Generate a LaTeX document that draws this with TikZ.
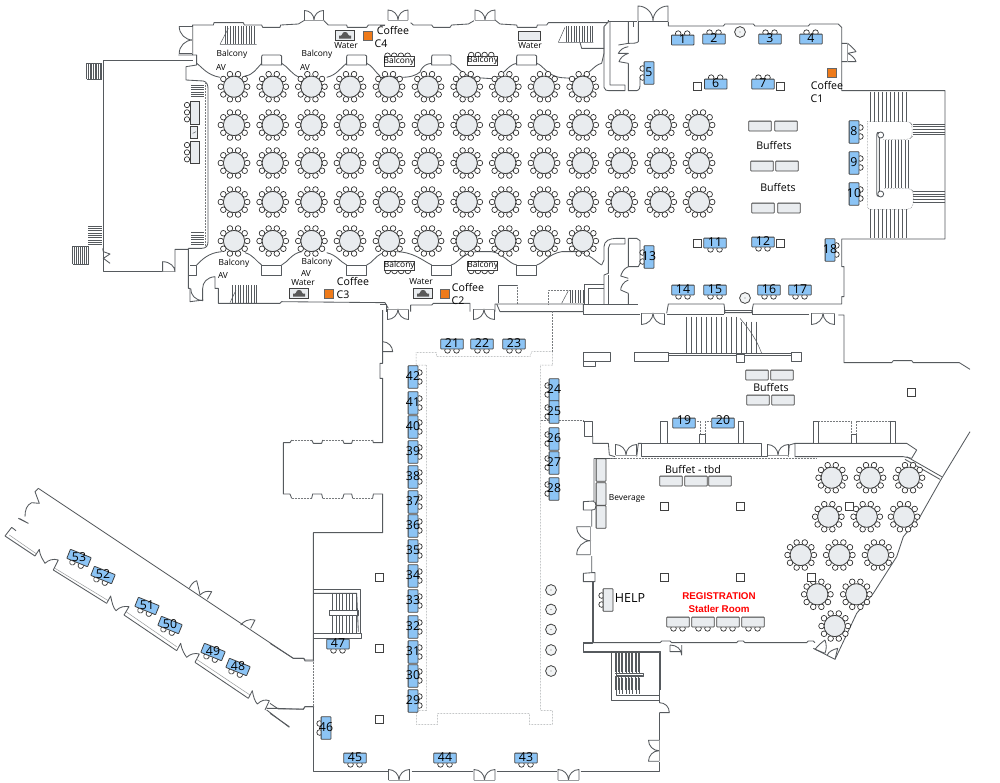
\documentclass[tikz,border=0pt]{standalone}
\usepackage{fontspec}
\setmainfont{Open Sans}
\newfontfamily\arialf{Liberation Sans}
\definecolor{wallc}{HTML}{565A5E}
\definecolor{tblg}{HTML}{E9ECEF}
\definecolor{tblb}{HTML}{8CC4F5}
\definecolor{orng}{HTML}{EE7A1A}
\tikzset{
 wall/.style={draw=wallc,line width=.85pt,line join=round},
 thin wall/.style={draw=wallc!60,line width=.5pt},
 dotw/.style={draw=wallc!80,line width=.5pt,densely dotted},
 tread/.style={draw=wallc,line width=.5pt},
 chair/.style={draw=black!85,fill=white,line width=.65pt},
 tbledge/.style={draw=black!75,line width=.8pt},
 lbl/.style={font=\fontsize{12.3}{12}\selectfont,inner sep=0pt},
 small/.style={font=\fontsize{8.4}{8}\selectfont,inner sep=0pt},
 med/.style={font=\fontsize{10.6}{10}\selectfont,inner sep=0pt},
 red lbl/.style={font=\arialf\bfseries\fontsize{9.8}{10}\selectfont,text=red,inner sep=0pt},
 zA/.style={shift={(60,0)},scale=0.33333},
 zB/.style={shift={(380,0)},scale=0.33333},
 zC/.style={shift={(620,0)},scale=0.33333},
 zD/.style={shift={(540,310)},scale=0.33333},
 zE/.style={shift={(270,310)},scale=0.33333},
 zG/.style={shift={(0,480)},scale=0.33333},
}
% round table with ten chairs
\newcommand{\rtbl}[2]{%
 \foreach \a in {0,36,...,324}{\draw[chair] (#1,#2) ++(\a:13.2) circle[radius=2.8];}
 \draw[tbledge,fill=tblg] (#1,#2) circle[radius=10.6];}
% rectangular table: fill, x, y, rotation, chairs (1/0)
\newcommand{\rtab}[5]{%
 \begin{scope}[shift={(#2,#3)},rotate=#4]
 \ifnum#5=1
 \draw[chair] (-4.5,6.4) circle[radius=2.8]; \draw[chair] (4.5,6.4) circle[radius=2.8];
 \fi
 \draw[tbledge,fill=#1,rounded corners=.5pt] (-11.2,-4.9) rectangle (11.2,4.9);
 \end{scope}}
% exhibitor table with number
\newcommand{\btbl}[4]{\rtab{tblb}{#2}{#3}{#4}{1}\node[lbl] (b#1) at (#2,#3-1) {#1};}
\newcommand{\sq}[2]{\draw[tbledge,fill=white,line width=.6pt] (#1-4,#2-4) rectangle (#1+4,#2+4);}
\newcommand{\post}[2]{\draw[tbledge,fill=tblg!60] (#1,#2) circle[radius=5.4]; \fill[black!50] (#1,#2) circle[radius=.6];}
\newcommand{\orangebox}[2]{\draw[black!60,fill=orng,line width=.6pt] (#1-4.5,#2-4.5) rectangle (#1+4.5,#2+4.5);}
% double door: centre, rotation, half width
\newcommand{\dpair}[4]{%
 \begin{scope}[shift={(#1,#2)},rotate=#3,scale=#4]
 \draw[wall] (-1,0)--(-1,-1) .. controls (-.45,-1) and (0,-.55) .. (0,0) .. controls (0,-.55) and (.45,-1) .. (1,-1) -- (1,0);
 \draw[thin wall] (-1,0)--(1,0);
 \end{scope}}
\newcommand{\balc}[3]{% x,y of box top-left (px), chairs 1=top,0=bottom
 \ifnum#3=1
 \foreach \d in {3.5,10.2,16.9,23.6}{\draw[chair] (#1+\d,#2-1) circle[radius=2.8];}
 \else
 \foreach \d in {3.5,10.2,16.9,23.6}{\draw[chair] (#1+\d,#2+10) circle[radius=2.8];}
 \fi
 \draw[tbledge,fill=white] (#1,#2) rectangle (#1+30,#2+9.3);
 \node[small] at (#1+15,#2+4.4) {Balcony};}
\newcommand{\water}[2]{% centre
 \draw[tbledge,fill=tblg] (#1-9.3,#2-5) rectangle (#1+9.3,#2+5);
 \fill[black!65] (#1-6,#2+3) -- (#1-6,#2) -- (#1-4,#2) -- (#1-3,#2-1) -- (#1-2,#2-3)--(#1,#2-3.5)--(#1+2,#2-3) -- (#1+3,#2-1)--(#1+4,#2)--(#1+6,#2) --(#1+6,#2+3) -- cycle;}
\begin{document}
\begin{tikzpicture}[x=1pt,y=-1pt]
\useasboundingbox (0,0) rectangle (1000,782);
\fill[white] (0,0) rectangle (1000,782);
%==================== upper hall walls (zoom 1 coordinates)
\begin{scope}[zA]
\draw[wall] (398,182)--(130,182)--(130,815)--(305,815);
\draw[thin wall] (305,815)--(345,815);
\draw[wall] (308,815)--(308,785) .. controls (330,785) and (345,800) .. (345,815) -- (345,748)--(385,748);
\draw[wall] (128,745)--(130,755)--(150,762)--(130,775)--(150,790);
% top wall
\draw[wall] (398,165)--(398,75)--(460,75)--(462,68)--(550,68)--(553,75)--(605,75)--(608,82)--(660,82)--(662,75)--(715,72)--(735,60);
\draw[wall] (790,60)--(805,75)--(860,75)--(862,82)--(920,82)--(925,75)--(975,75);
\draw[wall] (378,200)--(378,240)--(430,243) .. controls (440,245) and (444,255) .. (444,265) -- (444,725) .. controls (444,738) and (438,745) .. (425,745)--(385,745);
\draw[dotw] (436,250)--(436,738);
\draw[wall] (378,200)--(410,195)--(410,165)--(355,165);
% scallops
\draw[wall] (410,190) .. controls (425,200) and (440,225) .. (480,232);
\draw[wall] (555,228) .. controls (580,225) and (590,205) .. (605,190);
\draw[wall] (665,190) .. controls (685,200) and (695,225) .. (720,232);
\draw[wall] (800,232) .. controls (830,225) and (840,205) .. (860,190);
\draw[wall] (920,190) .. controls (935,195) and (945,215) .. (960,228);
\draw[wall,fill=white] (605,195)--(605,170) .. controls (605,165) and (607,165) .. (610,165) -- (660,165) .. controls (665,165) and (665,170) .. (665,170) -- (665,195)--cycle;
\draw[wall,fill=white] (860,195)--(860,170) .. controls (860,165) and (862,165) .. (865,165) -- (915,165) .. controls (920,165) and (920,170) .. (920,170) -- (920,195)--cycle;
% lower scallops
\draw[wall] (410,795) .. controls (425,780) and (445,758) .. (485,755);
\draw[wall] (555,758) .. controls (580,765) and (590,785) .. (605,795);
\draw[wall] (665,795) .. controls (685,785) and (695,760) .. (725,755);
\draw[wall] (800,758) .. controls (830,765) and (840,785) .. (860,795);
\draw[wall] (920,795) .. controls (935,790) and (945,770) .. (965,760);
\draw[wall,fill=white] (605,795) rectangle (665,825);
\draw[wall,fill=white] (860,795) rectangle (920,825);
% bottom wall
\draw[wall] (385,745)--(385,865)--(390,865)--(390,905)--(430,900);
\draw[wall] (390,795)--(408,795)--(408,825)--(387,825);
\draw[wall] (392,865) .. controls (392,885) and (405,900) .. (428,902) -- (428,865) .. controls (428,848) and (440,832) .. (465,830) -- (465,865) -- (475,865) -- (475,910)--(660,910)--(665,905)--(975,908)--(985,925);
% side bits
\foreach \x in {80,85,...,125}{\draw[tread] (\x,190)--(\x,238);}
\draw[tread] (80,190)--(125,190) (80,238)--(125,238);
\foreach \y in {678,685,...,735}{\draw[tread] (85,\y)--(125,\y);}
\foreach \x in {38,44,...,88}{\draw[tread] (\x,738)--(\x,793);}
\draw[tread] (38,738)--(88,738) (38,793)--(88,793);
\foreach \y in {255,262,...,292}{\draw[tread] (393,\y)--(432,\y);}
\foreach \y in {698,705,...,735}{\draw[tread] (393,\y)--(432,\y);}
% stairs top-left
\foreach \x in {495,503,...,590}{\draw[tread] (\x,78)--(\x,133);}
\draw[tread] (480,133)--(590,133) (480,133)--(505,85);
\foreach \x in {518,526,...,590}{\draw[tread] (\x,855)--(\x,908);}
\draw[tread] (510,908)--(528,870);
% small tables at left
\foreach \y in {315,337,358}{\draw[chair] (381,\y) circle[radius=8];}
\foreach \y in {435,457,478}{\draw[chair] (381,\y) circle[radius=8];}
\draw[tbledge,fill=tblg] (390,305) rectangle (417,372);
\draw[tbledge,fill=tblg] (390,423) rectangle (417,490);
\draw[tbledge,fill=tblg] (390,380) rectangle (413,415);
\draw[tread] (398,400)--(408,395);
\end{scope}
\dpair{314}{20}{0}{9.5}
\dpair{192.7}{40}{90}{13.5}
% continue, zoom 2 coordinates
\begin{scope}[zB]
\draw[wall] (0,75)--(15,75);
\draw[wall] (92,68)--(100,75)--(155,75)--(160,82)--(210,82)--(215,75)--(265,72)--(282,62);
\draw[wall] (345,60)--(360,72)--(410,75)--(412,82)--(470,82)--(472,75)--(500,75)--(505,68)--(685,68);
\draw[wall] (120,215) .. controls (130,195) and (140,192) .. (155,190);
\draw[wall] (0,232)--(60,232) .. controls (90,232) and (105,228) .. (122,215);
\draw[wall] (213,190) .. controls (235,195) and (240,228) .. (290,233) -- (335,236) .. controls (370,232) and (380,195) .. (410,190);
\draw[wall] (470,190) .. controls (490,195) and (500,228) .. (545,233) -- (590,236) .. controls (630,225) and (640,195) .. (665,190);
\draw[wall,fill=white] (155,195)--(155,170) .. controls (155,165) and (157,165) .. (160,165) -- (208,165) .. controls (213,165) and (213,170) .. (213,170) -- (213,195)--cycle;
\draw[wall,fill=white] (410,195)--(410,170) .. controls (410,165) and (412,165) .. (415,165) -- (465,165) .. controls (470,165) and (470,170) .. (470,170) -- (470,195)--cycle;
% lower scallops
\draw[wall] (45,755) .. controls (100,755) and (125,780) .. (155,795);
\draw[wall] (213,795) .. controls (235,790) and (245,760) .. (290,755) -- (335,755) .. controls (370,760) and (385,790) .. (410,795);
\draw[wall] (470,795) .. controls (490,790) and (505,762) .. (545,755) -- (590,755) .. controls (630,760) and (645,785) .. (665,795);
\draw[wall,fill=white] (155,795) rectangle (213,825);
\draw[wall,fill=white] (410,795) rectangle (470,825);
% east vestibule, north
\draw[wall] (665,190)--(672,160)--(672,80)--(685,65)--(685,60);
\draw[wall] (672,80)--(672,262) .. controls (672,270) and (680,272) .. (690,272) -- (735,272)--(735,255)--(690,255)--(690,65);
\draw[wall] (685,65)--(770,65);
\draw[wall] (745,65)--(745,130)--(715,135) (745,190)--(745,272)--(770,272) .. controls (780,270) and (780,262) .. (780,250) -- (780,235) (775,65)--(775,125) .. controls (770,130) and (760,130) .. (745,130);
\draw[wall] (745,140) .. controls (730,142) and (720,150) .. (715,160) -- (745,160) .. controls (730,165) and (720,175) .. (717,185) -- (745,190);
% stair top right
\foreach \x in {558,566,...,640}{\draw[tread] (\x,78)--(\x,127);}
\draw[tread] (535,127)--(640,127) (535,127)--(555,82);
\draw[wall] (600,127)--(605,145)--(672,145);
% east vestibule, south
\draw[wall] (665,795)--(672,780)--(672,740) .. controls (672,722) and (690,715) .. (710,715) -- (735,715)--(735,732)--(690,732)--(685,745)--(685,820)--(672,825)--(672,912);
\draw[wall] (685,825)--(685,912);
\draw[wall] (745,715)--(745,800)--(775,800)--(780,790)--(780,722)--(770,715)--(745,715);
\draw[wall] (745,800) .. controls (730,805) and (725,820) .. (722,828)--(745,835) (745,880)--(745,912);
\draw[wall] (745,840) .. controls (730,845) and (722,860) .. (722,870) -- (745,880);
% south wall
\draw[wall] (0,912)--(20,912)--(20,935);
\draw[wall] (92,935)--(92,915)--(155,915)--(160,910)--(270,910)--(270,935);
\draw[wall] (355,910)--(355,855)--(412,855);
\draw[dotw] (412,855)--(412,910);
\draw[wall] (345,935)--(345,912)--(505,912)--(610,912)--(610,935)--(360,935)--(350,912);
\draw[wall] (610,912)--(775,912);
\draw[wall] (612,912)--(612,852) -- (672,852);
\draw[wall] (625,912)--(625,865)--(672,865);
\foreach \x in {570,578,...,610}{\draw[tread] (\x,870)--(\x,910);}
\draw[dotw] (505,912)--(505,870)--(570,870);
\draw[tread] (545,910)--(565,872);
\end{scope}
\dpair{398}{20}{0}{10}
\dpair{485}{20}{0}{10}
\dpair{398}{309}{180}{10.5}
\dpair{484}{309}{180}{10.5}
\dpair{653}{21}{0}{15}
% east room (zoom 3 coordinates)
\begin{scope}[zC]
\draw[wall] (25,65)--(40,65)--(40,80) (25,65)--(25,130) (55,65)--(145,65);
\draw[wall] (145,65)--(145,78)--(310,78)--(315,72)--(400,72)--(405,78)--(565,78)--(570,72)--(655,72)--(665,82)--(665,130)--(683,130);
\draw[wall] (665,130)--(665,185)--(665,272)--(975,272)--(975,717)--(665,717)--(665,800)--(672,800)--(672,890)--(665,890)--(665,912)--(400,912)--(395,938)--(315,938)--(312,912)--(145,912)--(140,940);
\draw[wall] (683,130) .. controls (695,140) and (705,150) .. (708,155) -- (683,160) .. controls (695,165) and (705,175) .. (708,185) -- (683,185)--(665,185);
\draw[thin wall] (683,130)--(683,185);
% stairs
\foreach \x in {750,762,...,866}{\draw[tread] (\x,275)--(\x,365);}
\foreach \x in {750,762,...,866}{\draw[tread] (\x,628)--(\x,715);}
\foreach \x in {795,805,...,865}{\draw[tread] (\x,420)--(\x,565);}
\foreach \y in {372,380,388,396,404}{\draw[tread] (878,\y)--(975,\y);}
\foreach \y in {574,582,590,598,606}{\draw[tread] (878,\y)--(975,\y);}
\draw[dotw,rounded corners=3pt] (742,365)--(870,365)--(876,375)--(876,410)--(868,418)--(790,418);
\draw[dotw,rounded corners=3pt] (742,365)--(742,628)--(870,628)--(880,615)--(880,575)--(870,565)--(790,565);
\draw[wall,fill=white,rounded corners=2pt] (770,398)--(770,588)--(778,588)--(778,398)--cycle;
\draw[wall,fill=white] (782,405) circle[radius=9];
\draw[wall,fill=white] (782,582) circle[radius=9];
\end{scope}
%==================== lower Statler area (zoom 4 coordinates)
\begin{scope}[zD]
\draw[wall] (130,5)--(130,12)--(300,12);
\draw[wall] (380,12)--(552,12) (636,12)--(808,12);
\draw[wall] (552,12)--(552,0)--(636,0)--(636,12);
\draw[wall] (895,15)--(912,15)--(912,158)--(1055,158)--(1060,152)--(1115,152)--(1120,158)--(1258,158)--(1290,178);
\draw[wall] (1290,365)--(1205,505)--(1140,620)--(1090,680)--(1070,740)--(1000,850)--(950,910)--(885,1048)--(820,1015);
\draw[wall] (1100,440)--(1205,500) (1095,448)--(1200,508);
\foreach \x in {440,455,...,590}{\draw[tread] (\x,20)--(\x,130);}
\draw[tread] (600,25) .. controls (630,60) and (650,90) .. (665,130);
\foreach \x in {605,620,635,650}{\draw[tread] (\x,35)--(\x,130);}
\draw[wall] (385,130)--(755,130) (385,135)--(755,135);
\draw[wall,fill=white] (282,127) rectangle (385,155);
\draw[wall,fill=white] (755,127) rectangle (783,155);
\draw[wall,fill=white] (590,132) rectangle (612,157);
\draw[wall,fill=white] (130,127) rectangle (210,155);
\draw[wall,fill=white] (130,155) rectangle (165,170);
% ledge
\draw[wall] (130,333)--(158,333)--(158,378)--(133,378)--(133,333);
\draw[wall] (158,378)--(158,400)--(205,400)--(208,435)--(225,440);
\draw[wall] (162,445)--(225,445);
\draw[wall] (290,440)--(295,400)--(305,400);
\draw[wall] (305,400)--(665,400)--(665,440)--(305,440)--(305,400);
\draw[wall] (665,440)--(683,440)--(683,405);
\draw[wall] (745,440)--(748,405)--(765,400)--(1100,400)--(1130,420)--(1115,445)--(1090,440)--(765,440)--(765,400);
\draw[wall,fill=white] (360,333) rectangle (383,400);
\draw[wall,fill=white] (595,333) rectangle (610,400);
\draw[wall,fill=white] (820,333) rectangle (835,400);
\draw[wall,fill=white] (1052,333) rectangle (1065,400);
\draw[wall,fill=white] (478,372) rectangle (497,400);
\draw[wall,fill=white] (935,372) rectangle (950,400);
\draw[dotw] (838,333)--(935,333)--(935,370) (950,370)--(950,333)--(1052,333);
\draw[dotw] (470,333)--(480,333)--(480,370) (496,370)--(496,333)--(510,333);
\draw[dotw] (60,330)--(130,330);
\draw[dotw] (210,445)--(830,445);
% room west wall
\draw[wall] (162,445)--(162,573)--(130,575)--(130,600)--(155,600)--(155,650);
\draw[wall] (155,600) .. controls (165,600) and (168,595) .. (168,588) .. controls (168,580) and (165,574) .. (160,574);
\draw[wall] (155,738)--(155,788)--(130,790)--(130,815)--(165,815)--(165,788)--(155,788);
\draw[wall] (160,815)--(160,998)--(360,998)--(365,993)--(390,993)--(395,998)--(590,998)--(595,993)--(610,993)--(615,998)--(800,998)--(805,993)--(820,993)--(825,998);
\draw[wall] (130,998)--(160,998) (130,998)--(130,1025)--(360,1025)--(360,1140);
\draw[wall] (390,1005) .. controls (410,1005) and (425,1018) .. (425,1035)--(425,1005) (390,1005)--(390,1025)--(425,1025);
\draw[wall] (825,1018) .. controls (835,1005) and (848,995) .. (855,990) (825,1018)--(855,1030) .. controls (860,1015) and (860,1005) .. (855,990);
\draw[wall] (862,1035) .. controls (865,1025) and (880,1018) .. (893,1015)--(885,1048);
% stairs below
\foreach \x in {225,235,...,300}{\draw[tread] (\x,1030)--(\x,1085);}
\foreach \x in {225,235,...,300}{\draw[tread] (\x,1100)--(\x,1140);}
\draw[wall] (215,1030)--(215,1140);
\draw[wall] (225,1090)--(310,1090)--(310,1098)--(225,1098);
\end{scope}
\dpair{626}{455}{0}{10.5}
\dpair{778}{455}{0}{10.5}
\dpair{590.7}{540.7}{90}{14}
\dpair{653}{313}{180}{11.5}
\dpair{823}{313}{180}{11.5}
%==================== foyer (zoom 5/6 coordinates)
\begin{scope}[zE]
\draw[wall] (338,0)--(338,160)--(330,160)--(330,205)--(338,205)--(338,398)--(310,398)--(308,390);
\draw[dotw] (65,390)--(125,390) (158,390)--(218,390) (248,390)--(308,390);
\draw[wall] (65,390)--(60,398)--(40,398)--(40,552)--(60,552)--(65,565);
\draw[wall] (125,390)--(130,400)--(155,400)--(158,390) (218,390)--(222,400)--(245,400)--(248,390);
\draw[dotw] (65,565)--(125,565) (158,565)--(218,565) (248,565)--(308,565);
\draw[wall] (125,565)--(128,552)--(155,552)--(158,565) (218,565)--(222,552)--(245,552)--(248,565) (308,565)--(310,552)--(338,552)--(338,668)--(130,668)--(130,1050);
\draw[wall] (338,95) .. controls (355,95) and (368,110) .. (368,125) -- (338,125);
\draw[dotw] (438,165)--(438,128)--(500,128)--(500,140)--(780,140)--(785,125)--(848,125)--(848,165)--(812,165)--(812,1202)--(848,1202)--(848,1243)--(778,1243)--(778,1210)--(503,1210)--(503,1243)--(440,1243)--(440,1202)--(470,1202)--(470,165)--cycle;
\draw[dotw] (848,125)--(848,0);
\draw[dotw] (812,330)--(930,330);
% stairs west
\draw[wall] (130,838)--(272,838)--(272,970);
\draw[wall] (130,850)--(260,850)--(265,965);
\draw[wall] (178,902)--(265,902)--(265,915)--(178,915)--cycle;
\foreach \x in {188,198,...,260}{\draw[tread] (\x,850)--(\x,900);}
\foreach \x in {188,198,...,260}{\draw[tread] (\x,916)--(\x,968);}
\draw[wall,fill=white] (130,970) rectangle (275,985);
% lower walls (y+750 from the lower crop)
\draw[wall] (130,1050)--(105,1050)--(100,1045)--(70,1045)--(0,1000);
\draw[dotw] (130,1050)--(130,1190);
\draw[wall] (130,1190)--(105,1190)--(100,1197)--(25,1197)--(0,1180);
\draw[wall] (0,1210)--(58,1250);
\draw[wall] (130,1190)--(130,1385)--(355,1385) (425,1385)--(610,1385) (680,1385)--(862,1385) (932,1385)--(1168,1385)--(1168,1355);
\draw[wall] (1168,1290)--(1168,1210);
\draw[wall] (1168,1178)--(1168,1028)--(940,1028)--(940,1000)--(968,1000)--(968,815);
\draw[wall] (1025,1028)--(1025,1170)--(1168,1170) (1040,1028)--(1040,1155)--(1168,1155);
\draw[wall] (1040,1095)--(1118,1095)--(1118,1100)--(1040,1100);
\foreach \x in {1048,1058,...,1110}{\draw[tread] (\x,1030)--(\x,1090);\draw[tread] (\x,1103)--(\x,1153);}
\draw[wall] (1168,1178) .. controls (1185,1178) and (1198,1190) .. (1198,1208) -- (1168,1208);
\end{scope}
\dpair{399}{780}{0}{10.5}
\dpair{484.5}{780}{0}{10.5}
\dpair{568.5}{780}{0}{10.5}
\dpair{659}{750.7}{90}{10.5}
%==================== west corridor (zoom 7 coordinates)
\begin{scope}[zG]
\draw[wall] (115,25)--(880,535)--(912,535)--(915,543)--(942,543);
\draw[wall] (15,168)--(105,228) (160,270)--(320,370) (372,405)--(530,512) (585,547)--(745,655);
\draw[thin wall] (28,165)--(110,222) (165,265)--(325,362) (378,395)--(530,500) (590,538)--(750,645);
\draw[wall] (800,685)--(830,685)--(910,688)--(915,680)--(942,680);
\draw[wall] (800,690)--(868,742);
\draw[wall] (115,25)--(105,35)--(118,70)--(95,68) .. controls (80,75) and (75,90) .. (75,110);
\draw[wall] (15,168)--(35,142)--(48,152) (55,115)--(85,130) .. controls (75,125) and (60,115) .. (55,115);
\draw[wall] (105,228)--(118,208) .. controls (120,230) and (130,240) .. (135,250) .. controls (145,240) and (160,235) .. (175,240)--(160,270);
\draw[wall] (320,370)--(332,348) .. controls (335,365) and (340,385) .. (348,392) .. controls (360,380) and (372,378) .. (387,380)--(372,405);
\draw[wall] (530,512)--(542,490) .. controls (545,510) and (555,525) .. (560,532) .. controls (570,522) and (585,518) .. (598,522)--(585,547);
\draw[wall] (745,655)--(757,632) .. controls (760,650) and (765,665) .. (772,672) .. controls (785,660) and (795,658) .. (808,662)--(795,690);
\draw[wall] (568,325) .. controls (572,315) and (580,305) .. (590,302) .. controls (595,320) and (598,335) .. (600,345) .. controls (610,335) and (620,332) .. (635,335) -- (622,358);
\draw[wall] (722,435) .. controls (730,425) and (745,415) .. (765,420)--(752,445);
\end{scope}
%==================== round tables
\foreach \y in {86.7,241}{\foreach \x in {234,272.7,311.4,350,389,428,466.7,505.3,544,582.7}{\rtbl{\x}{\y}}}
\foreach \y in {125,163,202}{\foreach \x in {234,272.7,311.4,350,389,428,466.7,505.3,544,582.7,621.7,660.7,699}{\rtbl{\x}{\y}}}
\rtbl{831.7}{477.7}\rtbl{870}{477.7}\rtbl{909}{477.7}
\rtbl{828.3}{516.7}\rtbl{866.7}{516.7}\rtbl{904}{516.7}
\rtbl{800.7}{555}\rtbl{839.3}{555}\rtbl{878}{555}
\rtbl{817.3}{594.3}\rtbl{856.3}{594.3}
\rtbl{834.7}{626}
%==================== squares and posts
\sq{697}{86}\sq{780}{86}\sq{697}{243}\sq{780}{243}
\sq{664}{506}\sq{740}{506}\sq{664}{577}\sq{740}{577}\sq{849}{506}\sq{811}{577}\sq{911}{392}
\sq{379}{577}\sq{379}{648}\sq{379}{719}
\post{740}{32}\post{745}{298}
\post{551}{590}\post{551}{609.5}\post{551}{629.5}\post{551}{650}\post{551}{671}
%==================== gray tables
\rtab{tblg}{760}{126}{0}{0}\rtab{tblg}{786}{126}{0}{0}
\rtab{tblg}{762}{166}{0}{0}\rtab{tblg}{787}{166}{0}{0}
\rtab{tblg}{763}{208}{0}{0}\rtab{tblg}{789}{208}{0}{0}
\rtab{tblg}{757}{375}{0}{0}\rtab{tblg}{782}{375}{0}{0}
\rtab{tblg}{758}{400}{0}{0}\rtab{tblg}{783}{400}{0}{0}
\rtab{tblg}{671}{481}{0}{0}\rtab{tblg}{696}{481}{0}{0}\rtab{tblg}{720}{481}{0}{0}
\rtab{tblg}{601}{470}{90}{0}\rtab{tblg}{601}{494}{90}{0}\rtab{tblg}{601}{517}{90}{0}
\rtab{tblg}{608}{600}{-90}{1}
\rtab{tblg}{678}{622}{0}{1}\rtab{tblg}{703}{622}{0}{1}\rtab{tblg}{728}{622}{0}{1}\rtab{tblg}{753}{622}{0}{1}
%==================== exhibitor tables
\btbl{1}{682.7}{40}{180}\btbl{2}{714}{39}{180}\btbl{3}{770}{39}{180}\btbl{4}{811}{39}{180}
\btbl{5}{649}{73}{-90}\btbl{6}{715.7}{84}{180}\btbl{7}{763}{84}{180}
\btbl{8}{854}{132}{90}\btbl{9}{854}{163}{90}\btbl{10}{854}{194}{90}
\btbl{11}{715}{243}{0}\btbl{12}{763}{242}{0}\btbl{13}{649}{257}{-90}
\btbl{14}{683}{290}{0}\btbl{15}{715}{290}{0}\btbl{16}{769}{290}{0}\btbl{17}{800}{290}{0}
\btbl{18}{830}{250}{90}
\rtab{tblb}{684}{423}{0}{0}\node[lbl] (b19) at (684,420) {19};
\rtab{tblb}{723}{423}{0}{0}\node[lbl] (b20) at (723,420) {20};
\btbl{21}{452}{344}{0}\btbl{22}{482}{344}{0}\btbl{23}{514}{344}{0}
\btbl{24}{554}{390}{-90}\btbl{25}{554}{412}{-90}\btbl{26}{554}{439}{-90}\btbl{27}{554}{463}{-90}\btbl{28}{554}{489}{-90}
\btbl{29}{413}{701}{90}\btbl{30}{413}{676}{90}\btbl{31}{413}{652}{90}\btbl{32}{413}{627}{90}\btbl{33}{413}{601}{90}
\btbl{34}{413}{576}{90}\btbl{35}{413}{551}{90}\btbl{36}{413}{526}{90}\btbl{37}{413}{502}{90}\btbl{38}{413}{477}{90}
\btbl{39}{413}{452}{90}\btbl{40}{413}{427}{90}\btbl{41}{413}{403}{90}\btbl{42}{413}{377}{90}
\btbl{43}{526}{758}{0}\btbl{44}{445}{758}{0}\btbl{45}{355}{758}{0}\btbl{46}{326}{728}{-90}\btbl{47}{338}{644}{0}
\btbl{48}{238}{667}{-22}\btbl{49}{213}{652}{-22}\btbl{50}{170}{625}{-22}\btbl{51}{147}{606}{-22}\btbl{52}{103}{575}{-22}\btbl{53}{79}{558}{-22}
%==================== balcony tables, water, coffee
\balc{384}{56.7}{1}\balc{467.7}{56}{1}\balc{384.3}{261}{0}\balc{467.7}{261}{0}
\water{345}{35.5}\water{299}{293.5}\water{423}{293.5}
\draw[tbledge,fill=tblg] (518,31) rectangle (540,40);
\orangebox{368}{35.5}\orangebox{329}{293.5}\orangebox{445}{293.5}\orangebox{832}{73}
\node[small] (wa) at (346,46) {Water};
\node[small] (wb) at (530,46) {Water};
\node[small] (wc) at (303,283) {Water};
\node[small] (wd) at (421,282) {Water};
\node[small] (ba) at (232,54) {Balcony};\node[small] (bav) at (221,67) {AV};
\node[small] (bb) at (317,54) {Balcony};\node[small] (bbv) at (305,67) {AV};
\node[small] (bc) at (234,263) {Balcony};\node[small] (bcv) at (223,275) {AV};
\node[small] (bd) at (317,262) {Balcony};\node[small] (bdv) at (306,273) {AV};
\node[med] (ca) at (393,30) {Coffee};\node[med] (caa) at (381,44) {C4};
\node[med] (cb) at (353,281) {Coffee};\node[med] (cbb) at (343,295) {C3};
\node[med] (cc) at (468,287) {Coffee};\node[med] (ccc) at (458,301) {C2};
\node[med] (cd) at (827,85) {Coffee};\node[med] (cdd) at (817,99) {C1};
\node[med] (f1) at (774,145) {Buffets};
\node[med] (f2) at (778,187) {Buffets};
\node[med] (f3) at (771,387) {Buffets};
\node[med] (f4) at (693,469) {Buffet - tbd};
\node[small] (bev) at (627,499) {Beverage};
\node[font=\fontsize{12.5}{12}\selectfont,inner sep=0pt] (help) at (630,598) {HELP};
\node[red lbl] (r1) at (719,596) {REGISTRATION};
\node[red lbl] (r2) at (719,609) {Statler Room};
\end{tikzpicture}
\end{document}
